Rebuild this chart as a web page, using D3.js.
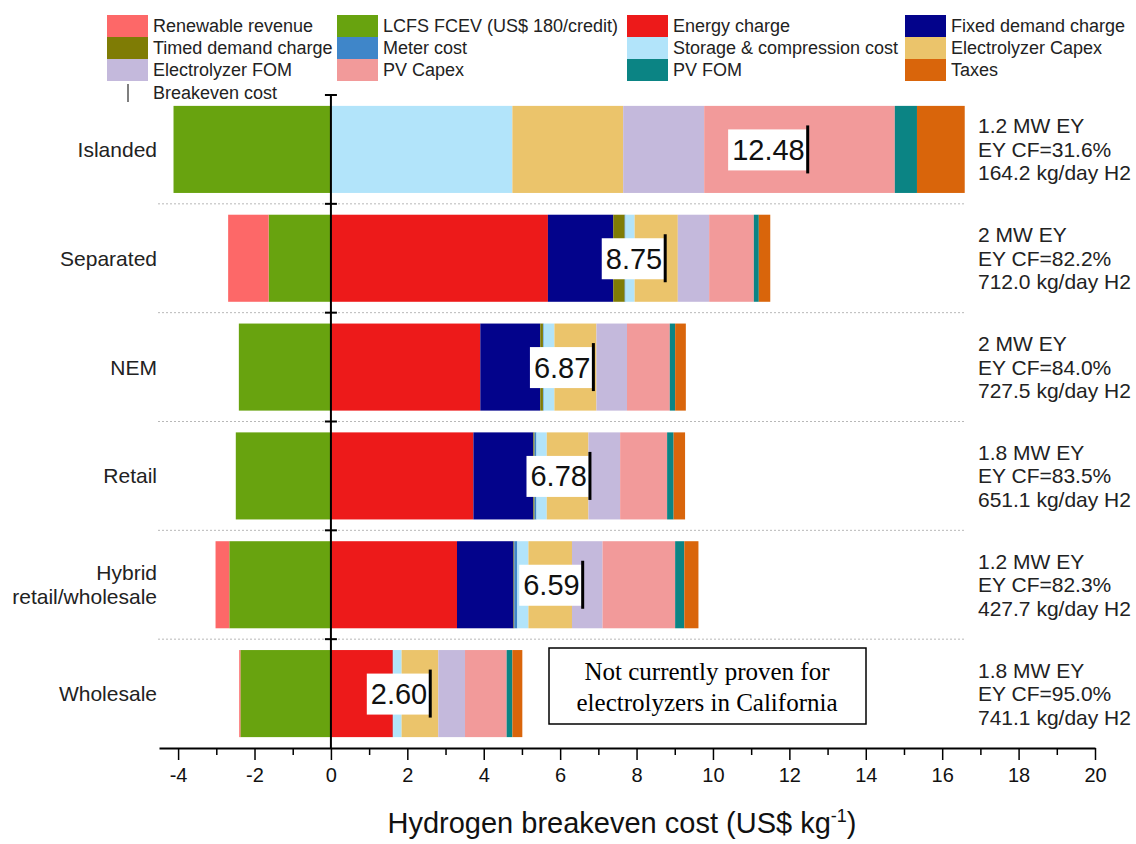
<!DOCTYPE html>
<html>
<head>
<meta charset="utf-8">
<script src="https://cdn.jsdelivr.net/npm/d3@7"></script>
<style>
  body { margin: 0; background: #fff; }
  svg { font-family: "Liberation Sans", Arial, sans-serif; }
</style>
</head>
<body>
<div id="container"></div>
<script>
var width = 1136,
    height = 844;

// categories (top to bottom)
var categories = ['Islanded', 'Separated', 'NEM', 'Retail', 'Hybrid retail/wholesale', 'Wholesale'];

// cost components, US$/kg
var renewableRevenue = [0, -1.06, 0, 0, -0.36, -0.03];
var lcfsFcev         = [-4.12, -1.63, -2.41, -2.49, -2.66, -2.37];
var energyCharge     = [0, 5.68, 3.91, 3.73, 3.30, 1.62];
var fixedDemand      = [0, 1.71, 1.57, 1.57, 1.48, 0];
var timedDemand      = [0, 0.30, 0.07, 0.03, 0.02, 0];
var meterCost        = [0, 0.02, 0.02, 0.05, 0.08, 0.01];
var storageCost      = [4.75, 0.24, 0.28, 0.27, 0.29, 0.22];
var eyCapex          = [2.90, 1.13, 1.10, 1.09, 1.14, 0.96];
var eyFom            = [2.12, 0.82, 0.80, 0.83, 0.80, 0.70];
var pvCapex          = [4.99, 1.17, 1.12, 1.23, 1.90, 1.09];
var pvFom            = [0.58, 0.13, 0.14, 0.17, 0.24, 0.15];
var taxes            = [1.25, 0.30, 0.28, 0.30, 0.37, 0.26];

var breakeven = [12.48, 8.75, 6.87, 6.78, 6.59, 2.60];

var eySize = ['1.2 MW EY', '2 MW EY', '2 MW EY', '1.8 MW EY', '1.2 MW EY', '1.8 MW EY'];
var eyCF = ['EY CF=31.6%', 'EY CF=82.2%', 'EY CF=84.0%', 'EY CF=83.5%', 'EY CF=82.3%', 'EY CF=95.0%'];
var h2Prod = ['164.2 kg/day H2', '712.0 kg/day H2', '727.5 kg/day H2', '651.1 kg/day H2', '427.7 kg/day H2', '741.1 kg/day H2'];

var xTicks = [-4, -2, 0, 2, 4, 6, 8, 10, 12, 14, 16, 18, 20];

// legend order (row by row) and colours
var series = [
  { key: 'Renewable revenue', values: renewableRevenue, color: '#fd6868' },
  { key: 'LCFS FCEV (US$ 180/credit)', values: lcfsFcev, color: '#68a30f' },
  { key: 'Energy charge', values: energyCharge, color: '#ed1a1a' },
  { key: 'Fixed demand charge', values: fixedDemand, color: '#03038b' },
  { key: 'Timed demand charge', values: timedDemand, color: '#7f7c05' },
  { key: 'Meter cost', values: meterCost, color: '#3f86c9' },
  { key: 'Storage & compression cost', values: storageCost, color: '#b2e4fa' },
  { key: 'Electrolyzer Capex', values: eyCapex, color: '#ebc46b' },
  { key: 'Electrolyzer FOM', values: eyFom, color: '#c4b9dc' },
  { key: 'PV Capex', values: pvCapex, color: '#f29a9a' },
  { key: 'PV FOM', values: pvFom, color: '#0b8484' },
  { key: 'Taxes', values: taxes, color: '#d9650b' }
];
var color = {};
series.forEach(function (s) { color[s.key] = s.color; });

// stacking order: LCFS sits next to zero, renewable revenue further left
var stackKeys = ['LCFS FCEV (US$ 180/credit)', 'Renewable revenue', 'Energy charge', 'Fixed demand charge',
  'Timed demand charge', 'Meter cost', 'Storage & compression cost', 'Electrolyzer Capex',
  'Electrolyzer FOM', 'PV Capex', 'PV FOM', 'Taxes'];

var table = categories.map(function (c, i) {
  var row = { cat: c };
  series.forEach(function (s) { row[s.key] = s.values[i]; });
  return row;
});

var stacked = d3.stack()
    .keys(stackKeys)
    .offset(d3.stackOffsetDiverging)(table);

var svg = d3.select('#container')
    .append('svg')
    .attr('width', width)
    .attr('height', height);

svg.append('rect').attr('width', width).attr('height', height).attr('fill', '#fff');

var scale_x = d3.scaleLinear()
    .domain([-4.5, 20])
    .range([159, 1095]);

var scale_y = d3.scaleBand()
    .domain(categories)
    .range([95, 748])
    .paddingInner(0.2)
    .paddingOuter(0.1);

var step = scale_y.step();
var bounds = d3.range(categories.length + 1).map(function (i) { return 95 + i * step; });

// dotted separators
svg.append('g')
    .selectAll('line')
    .data(bounds.slice(1, -1))
    .enter().append('line')
    .attr('x1', 158).attr('x2', 966)
    .attr('y1', function (d) { return d; })
    .attr('y2', function (d) { return d; })
    .attr('stroke', '#b8b8b8')
    .attr('stroke-width', 1)
    .attr('stroke-dasharray', '2,2');

// bars
svg.append('g')
    .selectAll('g')
    .data(stacked)
    .enter().append('g')
    .attr('fill', function (d) { return color[d.key]; })
    .selectAll('rect')
    .data(function (d) { return d; })
    .enter().append('rect')
    .attr('x', function (d) { return scale_x(Math.min(d[0], d[1])); })
    .attr('width', function (d) { return Math.abs(scale_x(d[1]) - scale_x(d[0])); })
    .attr('y', function (d) { return scale_y(d.data.cat); })
    .attr('height', scale_y.bandwidth());

// zero line with cross ticks
var x0 = scale_x(0);
svg.append('line')
    .attr('x1', x0).attr('x2', x0)
    .attr('y1', 95).attr('y2', 748)
    .attr('stroke', '#000').attr('stroke-width', 2);
svg.append('g')
    .selectAll('line')
    .data(bounds.slice(0, -1))
    .enter().append('line')
    .attr('x1', x0 - 6).attr('x2', x0 + 6)
    .attr('y1', function (d) { return d; })
    .attr('y2', function (d) { return d; })
    .attr('stroke', '#000').attr('stroke-width', 2);

// breakeven markers and labels
var marks = svg.append('g');
categories.forEach(function (c, i) {
  var xc = scale_x(breakeven[i]),
      yc = scale_y(c) + scale_y.bandwidth() / 2;
  var box = marks.append('rect').attr('fill', '#fff');
  var t = marks.append('text')
      .attr('x', xc - 3)
      .attr('y', yc)
      .attr('dy', '0.36em')
      .attr('text-anchor', 'end')
      .attr('font-size', 29)
      .attr('fill', '#111')
      .text(breakeven[i].toFixed(2));
  var bb = t.node().getBBox();
  box.attr('x', bb.x - 4).attr('y', yc - 20)
      .attr('width', bb.width + 6).attr('height', 41);
  marks.append('line')
      .attr('x1', xc).attr('x2', xc)
      .attr('y1', yc - 24).attr('y2', yc + 24)
      .attr('stroke', '#000').attr('stroke-width', 3);
});

// category labels
categories.forEach(function (c, i) {
  var yc = scale_y(c) + scale_y.bandwidth() / 2;
  var lines = c === 'Hybrid retail/wholesale' ? ['Hybrid', 'retail/wholesale'] : [c];
  var t = svg.append('text')
      .attr('x', 157)
      .attr('text-anchor', 'end')
      .attr('font-size', 21)
      .attr('fill', '#222');
  lines.forEach(function (l, j) {
    t.append('tspan')
      .attr('x', 157)
      .attr('y', yc + (j - (lines.length - 1) / 2) * 24)
      .attr('dy', '0.36em')
      .text(l);
  });
});

// electrolyzer info on the right
categories.forEach(function (c, i) {
  var yc = scale_y(c) + scale_y.bandwidth() / 2;
  var t = svg.append('text')
      .attr('font-size', 21)
      .attr('fill', '#222');
  [eySize[i], eyCF[i], h2Prod[i]].forEach(function (l, j) {
    t.append('tspan')
      .attr('x', 978)
      .attr('y', yc + (j - 1) * 23.5)
      .attr('dy', '0.36em')
      .text(l);
  });
});

// note box
var note = svg.append('g');
note.append('rect')
    .attr('x', 549).attr('y', 648)
    .attr('width', 317).attr('height', 76)
    .attr('fill', '#fff').attr('stroke', '#000').attr('stroke-width', 1.5);
note.append('text')
    .attr('x', 707).attr('y', 680)
    .attr('text-anchor', 'middle')
    .attr('font-family', '"Liberation Serif", "Times New Roman", serif')
    .attr('font-size', 25)
    .selectAll('tspan')
    .data(['Not currently proven for', 'electrolyzers in California'])
    .enter().append('tspan')
    .attr('x', 707)
    .attr('dy', function (d, i) { return i ? 31 : 0; })
    .text(function (d) { return d; });

// x axis
var x_axis = d3.axisBottom(scale_x)
    .tickValues(xTicks)
    .tickSize(12)
    .tickSizeOuter(0)
    .tickPadding(8)
    .tickFormat(function (d) { return String(d); });
var x_minor = d3.axisBottom(scale_x)
    .tickValues(d3.range(-3, 20, 2))
    .tickSize(7)
    .tickSizeOuter(0)
    .tickFormat('');
var gx = svg.append('g')
    .attr('transform', 'translate(0,748)')
    .call(x_axis);
svg.append('g')
    .attr('transform', 'translate(0,748)')
    .call(x_minor)
    .select('.domain').remove();
gx.select('.domain').attr('stroke-width', 2);
gx.selectAll('.tick text')
    .attr('font-size', 20)
    .attr('font-family', '"Liberation Sans", Arial, sans-serif')
    .attr('fill', '#111');
svg.selectAll('.tick line').attr('stroke-width', 1.5);

var title = svg.append('text')
    .attr('x', 622).attr('y', 833)
    .attr('text-anchor', 'middle')
    .attr('font-size', 29)
    .attr('fill', '#111');
title.append('tspan').text('Hydrogen breakeven cost (US$ kg');
title.append('tspan').attr('font-size', 18).attr('dy', -11).text('-1');
title.append('tspan').attr('dy', 11).text(')');

// legend
var colX = [107, 337, 627, 905];
var legend = svg.append('g');
series.forEach(function (s, i) {
  var col = i % 4, row = Math.floor(i / 4);
  var ly = 15 + row * 22;
  legend.append('rect')
      .attr('x', colX[col]).attr('y', ly)
      .attr('width', 41).attr('height', 22)
      .attr('fill', s.color);
  legend.append('text')
      .attr('x', colX[col] + 46).attr('y', ly + 11)
      .attr('dy', '0.36em')
      .attr('font-size', 18)
      .attr('fill', '#222')
      .text(s.key);
});
legend.append('line')
    .attr('x1', 128).attr('x2', 128)
    .attr('y1', 84).attr('y2', 102)
    .attr('stroke', '#555').attr('stroke-width', 1.5);
legend.append('text')
    .attr('x', 153).attr('y', 93)
    .attr('dy', '0.36em')
    .attr('font-size', 18)
    .attr('fill', '#222')
    .text('Breakeven cost');
</script>
</body>
</html>
